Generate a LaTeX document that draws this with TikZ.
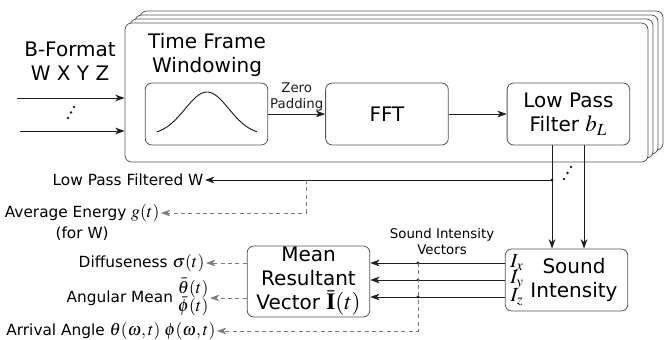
\documentclass[tikz,border=0pt]{standalone}
\usepackage{mathptmx}
\usepackage[no-math]{fontspec}
\setmainfont{DejaVu Sans}
\usetikzlibrary{arrows.meta, positioning, calc}
\definecolor{lnDark}{RGB}{30,30,30}
\definecolor{boxEdge}{RGB}{85,85,85}
\definecolor{dashGray}{RGB}{125,125,125}
\newcommand{\fbig}{\fontsize{15}{18}\selectfont}
\newcommand{\fmid}{\fontsize{11.5}{14}\selectfont}
\newcommand{\fsmall}{\fontsize{10}{12}\selectfont}
\newcommand{\mth}[1]{\scalebox{1.15}{$#1$}}

\begin{document}
\begin{tikzpicture}[
    x=0.75pt, y=-0.75pt,
    block/.style={rectangle, draw=boxEdge, fill=white, line width=0.6pt, rounded corners=5pt, inner sep=0pt, minimum width=92pt, minimum height=46.5pt, align=center, font=\fbig},
    framebox/.style={rectangle, draw=boxEdge, fill=white, line width=0.6pt, rounded corners=5pt, inner sep=0pt, minimum width=392.25pt, minimum height=104.25pt},
    arrow/.style={-{Stealth[length=7pt, width=5pt, inset=2pt]}, line width=0.7pt, lnDark},
    dasharrow/.style={-{Stealth[length=7pt, width=5pt, inset=2pt]}, line width=0.6pt, dash pattern=on 3pt off 2.5pt, dashGray},
    lbl/.style={font=\fmid, inner sep=1pt, align=center},
    smalllbl/.style={font=\fsmall, inner sep=1pt, align=center},
    biglbl/.style={font=\fbig, inner sep=1pt, align=center}
]
\useasboundingbox (0,0) rectangle (670,339);

% --- Pilha de quadros (um por bloco de tempo) ---
\foreach \k in {3,2,1}
    \node[framebox] at ($(386.5,92.5)+(5*\k,-4*\k)$) {};
\node[framebox] (frame) at (386.5,92.5) {};

\node[biglbl] (twin) at (207,55) {Time Frame\\Windowing};

% --- Blocos do quadro ---
\node[block] (win) at (206.5,114) {};
\node[block, right=42.75pt of win] (fft) {FFT};
\node[block, right=43.5pt of fft] (lpf) {Low Pass\\Filter \mth{b_L}};

\draw[line width=0.7pt, lnDark] plot[domain=157:257, samples=60, smooth]
    (\x,{135-43*exp(-((\x-207)/31)^2)});

% --- Blocos de baixo ---
\node[block] (si) at (566.5,280) {};
\node[biglbl] (snd) at (574,280) {Sound\\Intensity};
\node[block, minimum height=53.25pt] (mrv) at (308.5,281.5)
    {Mean\\Resultant\\Vector \mth{\bar{\mathbf{I}}(t)}};

% --- Entradas ---
\node[biglbl] (bfmt) at (70,61) {B-Format\\W X Y Z};
\coordinate (inA) at (17,98);
\coordinate (inB) at (20,131);
\foreach \p in {(68,118),(71,112.5),(74,107)}
    \fill[lnDark] \p circle (1.3);

% --- Saídas ---
\node[lbl, anchor=east] (lpfw) at (205,180) {Low Pass Filtered W};
\node[lbl, anchor=east] (avg) at (161,213) {Average Energy \mth{g(t)}};
\node[lbl, below=1pt of avg] (forw) {(for W)};
\node[lbl, anchor=east] (diff) at (206,263) {Diffuseness \mth{\sigma(t)}};
\node[lbl, anchor=east] (angm) at (210,298)
    {Angular Mean \mth{\begin{array}{@{}c@{}}\bar{\theta}(t)\\[-2pt]\bar{\phi}(t)\end{array}}};
\node[lbl, anchor=east] (arr) at (217,331)
    {Arrival Angle \mth{\theta(\omega,t)\;\phi(\omega,t)}};

\node[smalllbl] (siv) at (442,242) {Sound Intensity\\Vectors};

% === SETAS ===
\draw[arrow] (inA) -- (inA -| frame.west);
\draw[arrow] (inB) -- (inB -| frame.west);
\draw[arrow] (win) -- node[smalllbl, above=1pt] {Zero\\Padding} (fft);
\draw[arrow] (fft) -- (lpf);

% Saídas do filtro
\coordinate (tapA) at (552,180);
\coordinate (tapB) at (584,180);
\draw[arrow] (lpf.south -| tapA) -- (si.north -| tapA);
\draw[arrow] (lpf.south -| tapB) -- (si.north -| tapB);
\draw[arrow] (tapA) -- (lpfw);
\fill[lnDark] (tapA) circle (1.6);
\foreach \p in {(564,179),(567.5,173),(571,167)}
    \fill[lnDark] \p circle (1.3);

% Energia média (tracejado)
\coordinate (egy) at (306,180);
\draw[dasharrow] (egy) |- (avg);

% Vetores de intensidade
\foreach \y/\n in {263/x,280/y,297/z} {
    \coordinate (v\n) at (418,\y);
    \node[font=\fontsize{15}{15}\selectfont, inner sep=0pt] (i\n) at (517,\y) {$I_\n$};
    \draw[arrow] (si.west |- v\n) -- (mrv.east |- v\n);
    \fill[lnDark] (v\n) circle (1.6);
}
\draw[dasharrow] (vx) |- (arr);

% Saídas do vetor resultante
\draw[dasharrow] (mrv.west |- diff) -- (diff);
\draw[dasharrow] (mrv.west |- angm) -- (angm);

\end{tikzpicture}
\end{document}
